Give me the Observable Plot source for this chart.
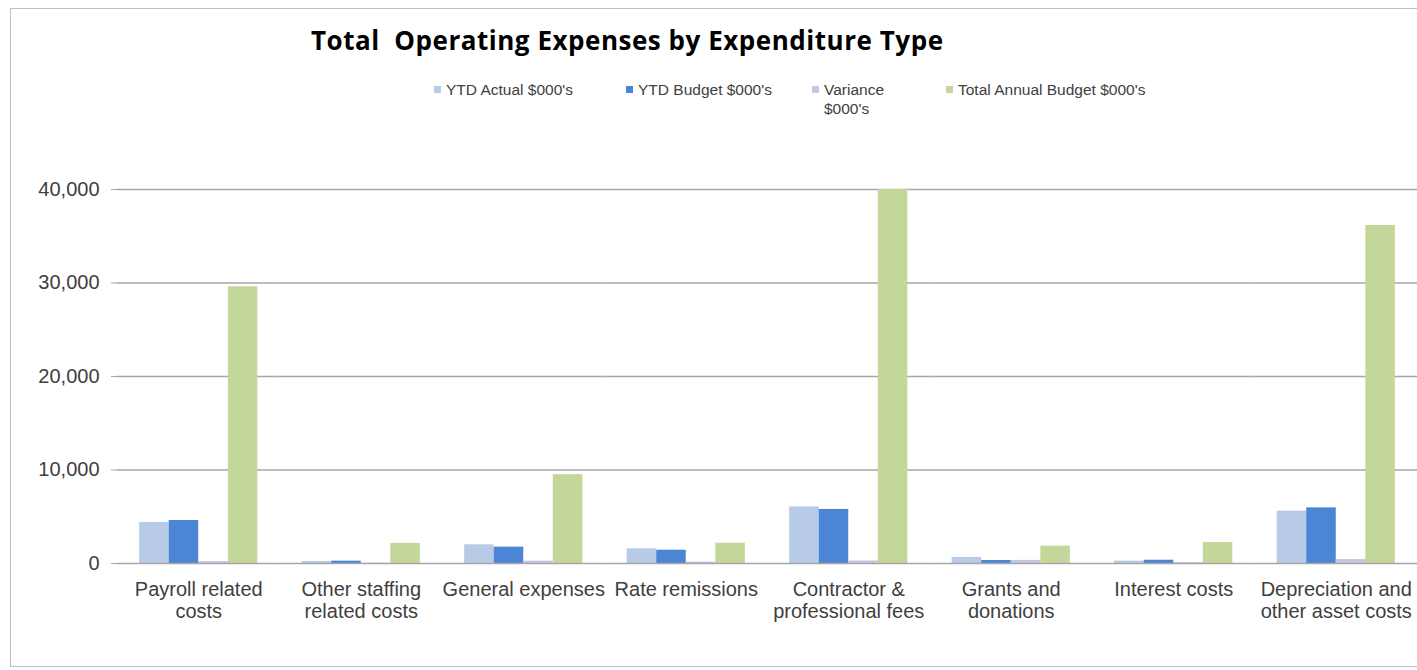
<!DOCTYPE html>
<html>
<head>
<meta charset="utf-8">
<script src="https://cdn.jsdelivr.net/npm/d3@7"></script>
<script src="https://cdn.jsdelivr.net/npm/@observablehq/plot@0.6"></script>
<style>
  html, body { margin: 0; padding: 0; background: #fff; overflow: hidden; }
  #wrap { position: relative; width: 1417px; height: 670px; overflow: hidden; font-family: "Liberation Sans", Arial, sans-serif; }
  #frame { position: absolute; left: 10px; top: 8px; width: 1500px; height: 659px; border: 1px solid #bfbfbf; box-sizing: border-box; }
  #title { position: absolute; left: 311px; top: 24px; font-family: "Open Sans", Lato, sans-serif; font-weight: bold; font-size: 26px; line-height: 32px; color: #000; white-space: pre; }
  .leg { position: absolute; top: 80px; font-size: 15.5px; line-height: 19px; color: #404040; }
  .sw { position: absolute; left: -12px; top: 6px; width: 7px; height: 7px; }
  #chart { position: absolute; left: 0; top: 0; }
</style>
</head>
<body>
<div id="wrap">
  <div id="frame"></div>
  <div id="title"></div>
  <div id="legend"></div>
  <div id="chart"></div>
</div>
<script>
const title = "Total  Operating Expenses by Expenditure Type";
const categories = ["Payroll related costs", "Other staffing related costs", "General expenses", "Rate remissions", "Contractor & professional fees", "Grants and donations", "Interest costs", "Depreciation and other asset costs"];
const categoryLabels = ["Payroll related\ncosts", "Other staffing\nrelated costs", "General expenses", "Rate remissions", "Contractor &\nprofessional fees", "Grants and\ndonations", "Interest costs", "Depreciation and\nother asset costs"];
const seriesNames = ["YTD Actual $000's", "YTD Budget $000's", "Variance $000's", "Total Annual Budget $000's"];
const legendLabels = ["YTD Actual $000's", "YTD Budget $000's", "Variance\n$000's", "Total Annual Budget $000's"];
const seriesColors = ["#b7cae6", "#4a86d5", "#c3c7e2", "#c4d79b"];
const ytdActual = [4400, 220, 2000, 1570, 6050, 650, 250, 5600];
const ytdBudget = [4600, 250, 1750, 1420, 5780, 320, 350, 5950];
const variance = [200, 30, 250, 150, 270, 330, 100, 420];
const totalAnnualBudget = [29600, 2150, 9500, 2170, 40000, 1850, 2250, 36150];
const yTicks = [0, 10000, 20000, 30000, 40000];

const seriesValues = [ytdActual, ytdBudget, variance, totalAnnualBudget];
const data = categories.flatMap((c, i) => seriesNames.map((s, j) => ({category: c, series: s, value: seriesValues[j][i]})));
const labelOf = new Map(categories.map((c, i) => [c, categoryLabels[i]]));

const titleEl = document.getElementById("title");
titleEl.textContent = title;
// stretch title to the reference width
const targetTitleWidth = 632;
const w0 = titleEl.getBoundingClientRect().width;
titleEl.style.letterSpacing = ((targetTitleWidth - w0) / (title.length - 1)) + "px";

const legendX = [446, 638, 824, 958];
const legend = document.getElementById("legend");
legendLabels.forEach((l, i) => {
  const d = document.createElement("div");
  d.className = "leg";
  d.style.left = legendX[i] + "px";
  d.style.whiteSpace = "pre";
  d.textContent = l;
  const sw = document.createElement("div");
  sw.className = "sw";
  sw.style.background = seriesColors[i];
  d.appendChild(sw);
  legend.appendChild(d);
});

const gridColor = "#a6a6a6";
const facetWidth = (1417 - 117) / categories.length;

const chart = Plot.plot({
  width: 1417,
  height: 670,
  marginLeft: 117,
  marginRight: 0,
  marginTop: 189,
  marginBottom: 107,
  style: {fontFamily: "'Liberation Sans', Arial, sans-serif", fontSize: "20px", color: "#404040", background: "transparent"},
  fx: {domain: categories, paddingInner: 0, paddingOuter: 0, round: false, label: null},
  x: {domain: seriesNames, paddingInner: 0, paddingOuter: 0.75, round: false, axis: null},
  y: {domain: [0, 40000], label: null},
  color: {domain: seriesNames, range: seriesColors},
  marks: [
    Plot.ruleY(yTicks.filter(d => d > 0), {stroke: gridColor, strokeWidth: 1.3}),
    Plot.barY(data, {fx: "category", x: "series", y: "value", fill: "series"}),
    Plot.ruleY([0], {stroke: gridColor, strokeWidth: 1.3}),
    Plot.ruleX(categories, {fx: d => d, y1: d => d === categories[0] ? 40000 : 0, y2: -600, dx: -facetWidth / 2, stroke: gridColor, strokeWidth: 1.3}),
    Plot.axisY({ticks: yTicks, tickFormat: d3.format(","), tickSize: 6, tickPadding: 12, stroke: gridColor, fill: "#404040", fontSize: 20, label: null}),
    Plot.axisFx({anchor: "bottom", tickSize: 0, tickPadding: 17, tickFormat: d => labelOf.get(d), fill: "#404040", fontSize: 20, lineHeight: 1.1, label: null})
  ]
});
document.getElementById("chart").appendChild(chart);
</script>
</body>
</html>
